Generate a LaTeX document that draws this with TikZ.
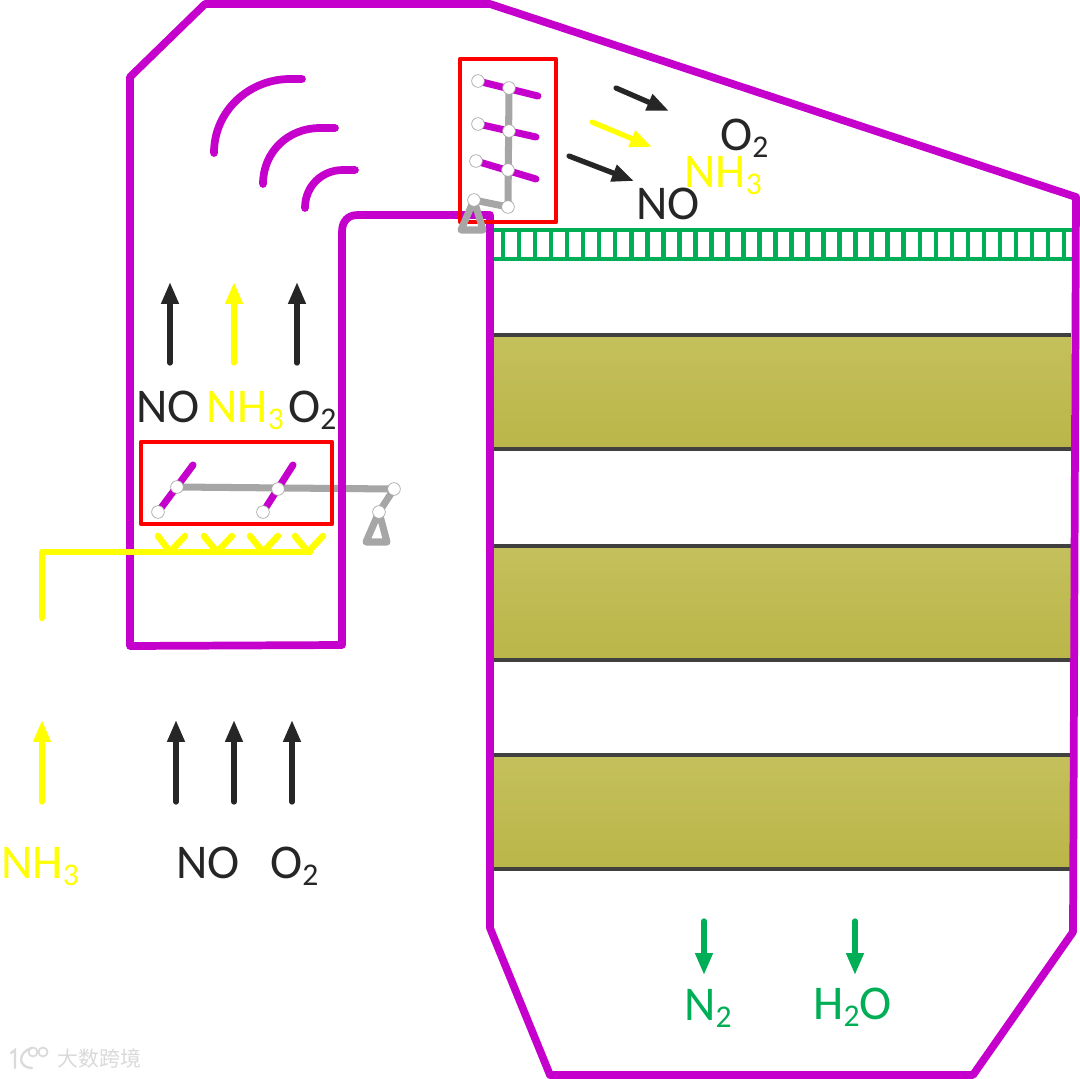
\documentclass[tikz,border=0pt]{standalone}
\usepackage{fontspec}
\setmainfont{Carlito}
\newfontfamily\cjkfont{Noto Sans CJK SC}
\usetikzlibrary{arrows.meta}
\definecolor{wall}{HTML}{C600CC}
\definecolor{linkgrey}{HTML}{A6A6A6}
\definecolor{dark}{HTML}{262626}
\definecolor{bedline}{HTML}{404040}
\definecolor{gyel}{HTML}{FFFF00}
\definecolor{ggreen}{HTML}{00AE55}
\definecolor{bedtop}{HTML}{C4C05C}
\definecolor{bedbot}{HTML}{BBB648}
\definecolor{wmark}{HTML}{DADADA}
\newcommand{\subs}[1]{\raisebox{-0.16em}{\fontsize{18}{18}\selectfont #1}}
\tikzset{
  x=0.02cm,y=-0.02cm,
  wallline/.style={draw=wall,line width=4.4pt,line join=round,line cap=round},
  redbox/.style={draw=red,line width=2.7pt,line join=round},
  link/.style={draw=linkgrey,line width=4pt,line cap=round,line join=round},
  vane/.style={draw=wall,line width=4pt,line cap=round},
  pin/.style={circle,draw=gray!70,line width=0.4pt,fill=white,inner sep=0pt,minimum size=7.2pt},
  flow/.style={line width=3pt,line cap=round,-{Triangle[length=12.5pt,width=9.5pt]}},
  blackflow/.style={flow,draw=dark},
  yellowflow/.style={flow,draw=gyel},
  greenflow/.style={flow,draw=ggreen},
  bed/.style={top color=bedtop,bottom color=bedbot},
  bedrule/.style={draw=bedline,line width=2.4pt},
  label/.style={inner sep=0pt,font=\fontsize{27.6}{30}\selectfont,anchor=base west},
  rail/.style={draw=ggreen,line width=2.6pt},
  feed/.style={draw=gyel,line width=3.7pt,line cap=round,line join=round},
}
\begin{document}
\begin{tikzpicture}
\useasboundingbox (0,0) rectangle (1080,1079);
\fill[white] (0,0) rectangle (1080,1079);

% catalyst beds
\foreach \t/\b in {335/449,546/660,755/869}{
  \shade[bed] (493,\t) rectangle (1071,\b);
  \draw[bedrule] (493,\t) -- (1071,\t);
  \draw[bedrule] (493,\b) -- (1071,\b);
}

% green grid
\draw[rail] (493,230) -- (1072,230);
\draw[rail] (493,259) -- (1072,259);
\foreach \k in {0,...,35}{
  \draw[rail] ({503+16.03*\k},230) -- ({503+16.03*\k},259);
}

% left linkage (behind the wall)
\draw[link] (177,487) -- (394,489) -- (379,512);
\draw[link] (379,512) -- (366,542) -- (387,542) -- cycle;
\draw[vane] (158,512) -- (193,465);
\draw[vane] (263,512) -- (293,465);

% wall
\draw[wallline] (130,77) -- (205,4) -- (490,4) -- (1076,197) -- (1073,932)
  -- (973,1075) -- (550,1075) -- (490,928) -- (490,215) -- (358,215)
  .. controls (348,215) and (342,221) .. (342,232) -- (342,645) -- (130,646) -- cycle;

% sound waves
\draw[wallline] (214,153) .. controls (214,110) and (250,79) .. (290,79) -- (302,79);
\draw[wallline] (263,184) .. controls (263,152) and (288,128) .. (320,128) -- (335,128);
\draw[wallline] (305,208) .. controls (305,186) and (322,170) .. (343,170) -- (355,170);

% red boxes
\draw[redbox] (460,59) rectangle (556,222);
\draw[redbox] (141,442) rectangle (332,524);

% top linkage
\draw[vane] (478,81) -- (538,96);
\draw[vane] (478,124) -- (536,137);
\draw[vane] (476,161) -- (536,179);
\draw[link] (509,88) -- (508,207) -- (474,200);
\draw[link] (474,200) -- (461,230) -- (483,230) -- cycle;

% pins
\foreach \p/\q in {478/81,509/88,478/124,509/131,476/161,508/170,474/200,508/207,
                   177/487,278/489,158/512,263/512,394/489,379/512}{
  \node[pin] at (\p,\q) {};
}

% ammonia feed
\draw[feed] (42,618) -- (42,552) -- (310,552);
\draw[feed] (158,536) -- (170,552) -- (185,536);
\draw[feed] (204,536) -- (217,552) -- (232,536);
\draw[feed] (250,536) -- (263,552) -- (278,536);
\draw[feed] (295,536) -- (308,552) -- (323,536);

% flows
\draw[blackflow] (170,363) -- (170,282);
\draw[yellowflow] (234,363) -- (234,282);
\draw[blackflow] (297,363) -- (297,282);
\draw[yellowflow] (42,802) -- (42,720);
\draw[blackflow] (176,802) -- (176,720);
\draw[blackflow] (234,802) -- (234,720);
\draw[blackflow] (292,802) -- (292,720);
\draw[blackflow] (616,88) -- (669,111);
\draw[yellowflow] (592,122) -- (652,147);
\draw[blackflow] (569,156) -- (634,181);
\draw[greenflow] (704,921) -- (704,975);
\draw[greenflow] (855,921) -- (855,975);

% labels
\node[label,text=dark] (no1) at (136,422) {NO};
\node[label,text=gyel] (nh1) at (206,422) {NH\subs{3}};
\node[label,text=dark] (o1) at (288,422) {O\subs{2}};
\node[label,text=dark] (o2) at (720,150) {O\subs{2}};
\node[label,text=gyel] (nh2) at (684,187) {NH\subs{3}};
\node[label,text=dark] (no2) at (636,219) {NO};
\node[label,text=gyel] (nh3) at (1,878) {NH\subs{3}};
\node[label,text=dark] (no3) at (176,878) {NO};
\node[label,text=dark] (o3) at (270,878) {O\subs{2}};
\node[label,text=ggreen] (n2) at (684,1020) {N\subs{2}};
\node[label,text=ggreen] (h2o) at (813,1019) {H\subs{2}O};

% watermark
\draw[wmark,line width=1.3pt,line cap=round] (11,1053) -- (15,1050) -- (15,1068);
\draw[wmark,line width=1.3pt,line cap=round] (32,1048) .. controls (17,1052) and (18,1068) .. (32,1068);
\draw[wmark,line width=1pt] (33,1052) circle (4.5);
\draw[wmark,line width=1pt] (43,1052) circle (4.5);
\node[inner sep=0pt,anchor=west,text=wmark,font=\cjkfont\fontsize{11.9}{14}\selectfont] (wm) at (57,1059) {大数跨境};
\end{tikzpicture}
\end{document}
